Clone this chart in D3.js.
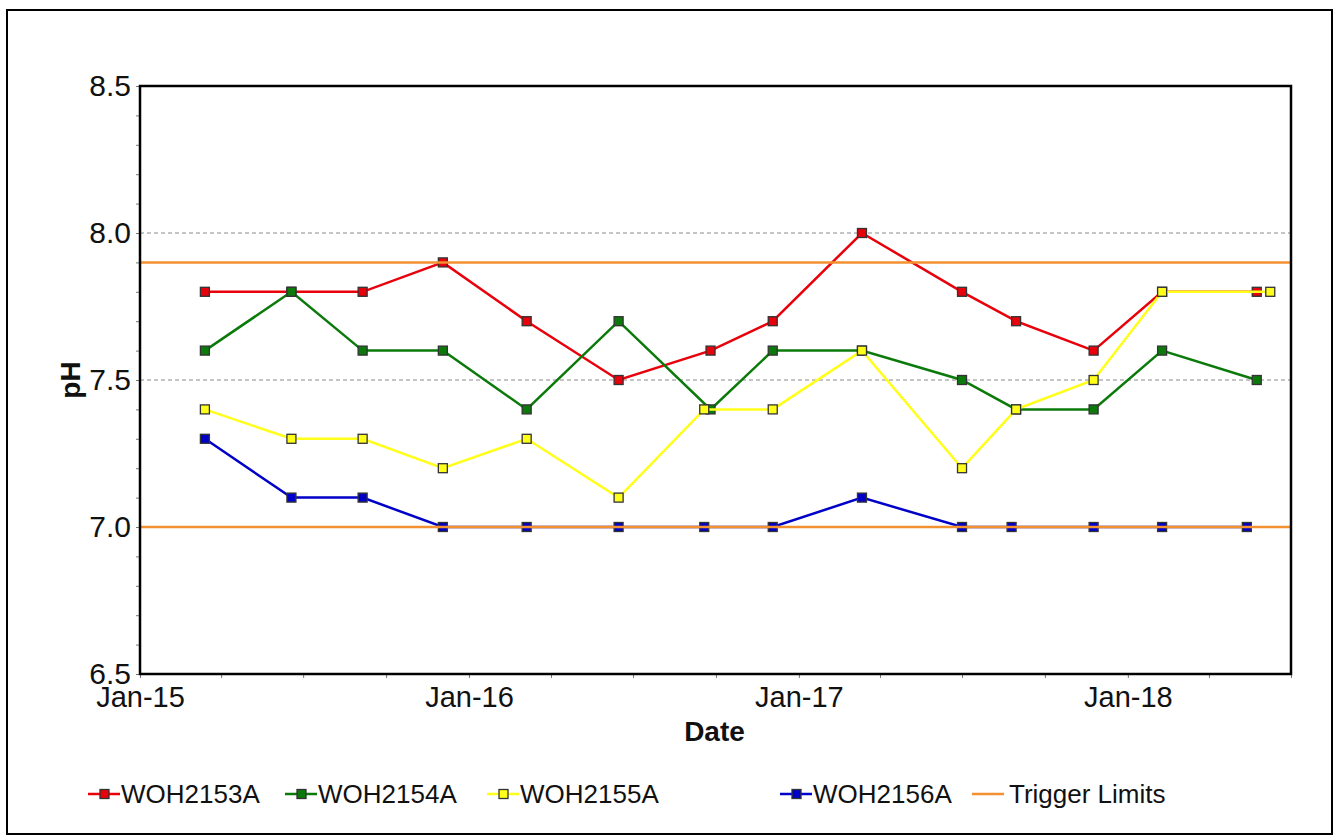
<!DOCTYPE html>
<html>
<head>
<meta charset="utf-8">
<script src="https://cdn.jsdelivr.net/npm/d3@7"></script>
<style>
  body { margin: 0; background: #fff; }
  svg { font-family: "Liberation Sans", Arial, sans-serif; }
</style>
</head>
<body>
<div id="chart"></div>
<script>
// pH readings per well
const seriesNames = ["WOH2153A", "WOH2154A", "WOH2155A", "WOH2156A"];
const seriesColors = ["#e8000b", "#0b7a0b", "#ffff1a", "#0000c8"];

const datesA = ["2015-03-14", "2015-06-18", "2015-09-05", "2015-12-03", "2016-03-05", "2016-06-15", "2016-09-25", "2016-12-03", "2017-03-12", "2017-07-01", "2017-08-30", "2017-11-24", "2018-02-08", "2018-05-24"];
const datesB = ["2015-03-14", "2015-06-18", "2015-09-05", "2015-12-03", "2016-03-05", "2016-06-15", "2016-09-25", "2016-12-03", "2017-03-12", "2017-07-01", "2017-08-30", "2017-11-24", "2018-02-08", "2018-05-24"];
const datesC = ["2015-03-14", "2015-06-18", "2015-09-05", "2015-12-03", "2016-03-05", "2016-06-15", "2016-09-18", "2016-12-03", "2017-03-12", "2017-07-01", "2017-08-30", "2017-11-24", "2018-02-08", "2018-06-08"];
const datesD = ["2015-03-14", "2015-06-18", "2015-09-05", "2015-12-03", "2016-03-05", "2016-06-15", "2016-09-18", "2016-12-03", "2017-03-12", "2017-07-01", "2017-08-25", "2017-11-24", "2018-02-08", "2018-05-13"];

const phA = [7.8, 7.8, 7.8, 7.9, 7.7, 7.5, 7.6, 7.7, 8.0, 7.8, 7.7, 7.6, 7.8, 7.8];
const phB = [7.6, 7.8, 7.6, 7.6, 7.4, 7.7, 7.4, 7.6, 7.6, 7.5, 7.4, 7.4, 7.6, 7.5];
const phC = [7.4, 7.3, 7.3, 7.2, 7.3, 7.1, 7.4, 7.4, 7.6, 7.2, 7.4, 7.5, 7.8, 7.8];
const phD = [7.3, 7.1, 7.1, 7.0, 7.0, 7.0, 7.0, 7.0, 7.1, 7.0, 7.0, 7.0, 7.0, 7.0];

const triggerLimits = [7.0, 7.9];
const triggerColor = "#f39030";

const xTickLabels = ["Jan-15", "Jan-16", "Jan-17", "Jan-18"];
const yTicks = [6.5, 7.0, 7.5, 8.0, 8.5];
const gridValues = [7.5, 8.0];

const parse = d3.timeParse("%Y-%m-%d");
const allDates = [datesA, datesB, datesC, datesD];
const allPh = [phA, phB, phC, phD];
const series = seriesNames.map(function(name, i) {
  return {
    name: name,
    color: seriesColors[i],
    values: allDates[i].map(function(d, j) { return { date: parse(d), ph: allPh[i][j] }; })
  };
});

const width = 1337, height = 839;
const margin = {top: 86, right: 46, bottom: 165, left: 140};
const innerWidth = width - margin.left - margin.right;
const innerHeight = height - margin.top - margin.bottom;

const SVG = d3.select("#chart").append("svg")
  .attr("width", width)
  .attr("height", height);

// outer frame
SVG.append("rect")
  .attr("x", 7).attr("y", 10)
  .attr("width", 1325).attr("height", 824)
  .attr("fill", "none")
  .attr("stroke", "#000")
  .attr("stroke-width", 2);

const svg = SVG.append("g")
  .attr("transform", "translate(" + margin.left + "," + margin.top + ")");

const xScale = d3.scaleTime()
  .domain([parse("2015-01-01"), parse("2018-07-01")])
  .range([0, innerWidth]);
const yScale = d3.scaleLinear()
  .domain([6.5, 8.5])
  .range([innerHeight, 0]);

// dashed gridlines
svg.selectAll(".grid")
  .data(gridValues).enter().append("line")
  .attr("class", "grid")
  .attr("x1", 0).attr("x2", innerWidth)
  .attr("y1", function(d) { return yScale(d); })
  .attr("y2", function(d) { return yScale(d); })
  .attr("stroke", "#8a8a8a")
  .attr("stroke-width", 1)
  .attr("stroke-dasharray", "4,3");

// minor ticks
const xMinor = d3.axisBottom(xScale)
  .ticks(d3.timeMonth.every(3))
  .tickSize(4).tickFormat("");
svg.append("g")
  .attr("transform", "translate(0," + innerHeight + ")")
  .call(xMinor)
  .call(function(g) { g.select(".domain").remove(); g.selectAll("line").attr("stroke", "#777"); });

const yMinor = d3.axisLeft(yScale)
  .tickValues(d3.range(65, 86).map(function(d) { return d / 10; }))
  .tickSize(4).tickFormat("");
svg.append("g")
  .call(yMinor)
  .call(function(g) { g.select(".domain").remove(); g.selectAll("line").attr("stroke", "#777"); });

// major tick labels
const xAxis = d3.axisBottom(xScale)
  .ticks(d3.timeYear.every(1))
  .tickSize(0)
  .tickPadding(12)
  .tickFormat(function(d, i) { return xTickLabels[i]; });
svg.append("g")
  .attr("transform", "translate(0," + innerHeight + ")")
  .call(xAxis)
  .call(function(g) {
    g.select(".domain").remove();
    g.selectAll("text").attr("font-size", 29).attr("fill", "#111").attr("font-family", "Liberation Sans, Arial, sans-serif");
  });

const yAxis = d3.axisLeft(yScale)
  .tickValues(yTicks)
  .tickSize(0)
  .tickPadding(9)
  .tickFormat(d3.format(".1f"));
svg.append("g")
  .call(yAxis)
  .call(function(g) {
    g.select(".domain").remove();
    g.selectAll("text").attr("font-size", 30).attr("fill", "#111").attr("font-family", "Liberation Sans, Arial, sans-serif");
  });

// series lines + markers
const line = d3.line()
  .x(function(d) { return xScale(d.date); })
  .y(function(d) { return yScale(d.ph); });

const groups = svg.selectAll(".series")
  .data(series).enter().append("g")
  .attr("class", "series");

groups.append("path")
  .attr("d", function(d) { return line(d.values); })
  .attr("fill", "none")
  .attr("stroke", function(d) { return d.color; })
  .attr("stroke-width", 2.5);

groups.each(function(s) {
  d3.select(this).selectAll("rect")
    .data(s.values).enter().append("rect")
    .attr("x", function(d) { return xScale(d.date) - 4.5; })
    .attr("y", function(d) { return yScale(d.ph) - 4.5; })
    .attr("width", 9).attr("height", 9)
    .attr("fill", s.color)
    .attr("stroke", "#333")
    .attr("stroke-width", 1.3);
});

// trigger limits
svg.selectAll(".trigger")
  .data(triggerLimits).enter().append("line")
  .attr("class", "trigger")
  .attr("x1", 0).attr("x2", innerWidth)
  .attr("y1", function(d) { return yScale(d); })
  .attr("y2", function(d) { return yScale(d); })
  .attr("stroke", triggerColor)
  .attr("stroke-width", 2.5);

// plot frame
svg.append("rect")
  .attr("x", 0).attr("y", 0)
  .attr("width", innerWidth).attr("height", innerHeight)
  .attr("fill", "none")
  .attr("stroke", "#000")
  .attr("stroke-width", 2.5);

// axis titles
svg.append("text")
  .attr("x", innerWidth / 2 - 1)
  .attr("y", innerHeight + 67)
  .attr("text-anchor", "middle")
  .attr("font-size", 28)
  .attr("font-weight", "bold")
  .attr("fill", "#111")
  .text("Date");

svg.append("text")
  .attr("transform", "translate(" + (-70) + "," + yScale(7.5) + ") rotate(-90)")
  .attr("text-anchor", "middle")
  .attr("dy", "0.35em")
  .attr("font-size", 28)
  .attr("font-weight", "bold")
  .attr("fill", "#111")
  .text("pH");

// legend
const legendItems = series.map(function(s) { return {name: s.name, color: s.color, marker: true}; })
  .concat([{name: "Trigger Limits", color: triggerColor, marker: false}]);
const legendX = [88, 285, 487, 780, 972];

const legend = SVG.selectAll(".legend")
  .data(legendItems).enter().append("g")
  .attr("class", "legend")
  .attr("transform", function(d, i) { return "translate(" + legendX[i] + ",794)"; });

legend.append("line")
  .attr("x1", 0).attr("x2", 32)
  .attr("stroke", function(d) { return d.color; })
  .attr("stroke-width", 2.5);

legend.filter(function(d) { return d.marker; }).append("rect")
  .attr("x", 12).attr("y", -4.5)
  .attr("width", 9).attr("height", 9)
  .attr("fill", function(d) { return d.color; })
  .attr("stroke", "#333")
  .attr("stroke-width", 1.3);

legend.append("text")
  .attr("x", function(d) { return d.marker ? 33 : 37; })
  .attr("dy", "0.36em")
  .attr("font-size", 26)
  .attr("fill", "#111")
  .text(function(d) { return d.name; });
</script>
</body>
</html>
